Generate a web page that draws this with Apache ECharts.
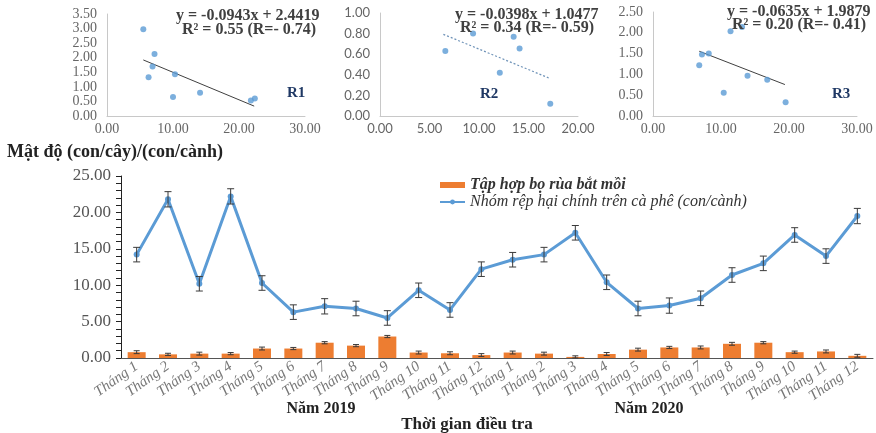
<!DOCTYPE html>
<html>
<head>
<meta charset="utf-8">
<script src="https://cdn.jsdelivr.net/npm/echarts@6/dist/echarts.min.js"></script>
<style>
html,body{margin:0;padding:0;background:#fff}
#chart{width:876px;height:433px}
</style>
</head>
<body>
<div id="chart"></div>
<script>
// ---- Monthly survey data (2019-2020) ----
const monthLabels = ['Tháng 1','Tháng 2','Tháng 3','Tháng 4','Tháng 5','Tháng 6','Tháng 7','Tháng 8','Tháng 9','Tháng 10','Tháng 11','Tháng 12',
                     'Tháng 1','Tháng 2','Tháng 3','Tháng 4','Tháng 5','Tháng 6','Tháng 7','Tháng 8','Tháng 9','Tháng 10','Tháng 11','Tháng 12'];
const beetleName = 'Tập hợp bọ rùa bắt mồi';
const aphidName = 'Nhóm rệp hại chính trên cà phê (con/cành)';
const beetleValues = [0.8,0.5,0.6,0.6,1.3,1.3,2.1,1.7,2.95,0.75,0.65,0.4, 0.75,0.6,0.15,0.55,1.15,1.45,1.45,1.95,2.1,0.8,0.9,0.3];
const beetleErr    = [0.2,0.15,0.2,0.15,0.2,0.15,0.15,0.15,0.15,0.2,0.2,0.2, 0.2,0.2,0.15,0.2,0.2,0.15,0.2,0.2,0.15,0.15,0.2,0.2];
const aphidValues  = [14.2,21.8,10.2,22.2,10.3,6.3,7.1,6.8,5.5,9.3,6.6,12.2, 13.5,14.2,17.2,10.4,6.8,7.2,8.2,11.4,13.0,16.9,14.0,19.5];
const aphidErr     = [1.0,1.05,1.0,1.05,1.0,1.0,1.05,1.0,1.0,1.0,1.0,1.0, 1.0,1.0,1.0,1.0,1.0,1.05,1.0,1.0,1.0,1.0,1.0,1.05];
const densityTicks = [0,5,10,15,20,25];

// ---- Regressions: aphid density (x) vs. ladybird density (y) ----
const r1Points = [[5.5,2.98],[7.2,2.13],[6.9,1.70],[6.3,1.33],[10.3,1.43],[10.0,0.65],[14.1,0.80],[21.8,0.53],[22.4,0.60]];
const r1Fit = {slope:-0.0943, intercept:2.4419, from:5.5, to:22.3};
const r2Points = [[6.6,0.63],[9.4,0.80],[13.5,0.77],[14.1,0.656],[12.1,0.42],[17.2,0.12]];
const r2Fit = {slope:-0.0398, intercept:1.0477, from:6.4, to:17.1};
const r3Points = [[11.4,2.04],[13.1,2.14],[7.2,1.48],[8.2,1.50],[6.8,1.22],[13.9,0.97],[16.8,0.87],[10.4,0.56],[19.5,0.33]];
const r3Fit = {slope:-0.0635, intercept:1.9879, from:6.8, to:19.4};

const SERIF = '"Liberation Serif","Times New Roman",serif';
const SANS = 'Lato,"Liberation Sans",sans-serif';
const BLUE = '#5B9BD5';
const ORANGE = '#ED7D31';

function fitLine(f){
  return [[f.from, f.intercept + f.slope*f.from],[f.to, f.intercept + f.slope*f.to]];
}

function smallAxes(idx, max, step, font, size, xmax, xstep){
  return {
    x:{gridIndex:idx,type:'value',min:0,max:xmax,interval:xstep,
       axisLine:{show:true,lineStyle:{color:'#c8c8c8'}},axisTick:{show:false},splitLine:{show:false},
       axisLabel:{color:'#666',fontFamily:font,fontSize:size,margin:6,formatter:v=>v.toFixed(2)}},
    y:{gridIndex:idx,type:'value',min:0,max:max,interval:step,
       axisLine:{show:true,lineStyle:{color:'#c8c8c8'}},axisTick:{show:false},splitLine:{show:false},
       axisLabel:{color:'#666',fontFamily:font,fontSize:size,margin:10,formatter:v=>v.toFixed(2)}}
  };
}
const a1 = smallAxes(0,3.5,0.5,SERIF,14,30,10);
const a2 = smallAxes(1,1.0,0.2,SANS,13,20,5);
const a3 = smallAxes(2,2.5,0.5,SERIF,14,30,10);

function errorBars(values, errs, capHalf, z){
  return {
    type:'custom', xAxisIndex:3, yAxisIndex:3, z:z, silent:true,
    data: values.map((v,i)=>[i, v, errs[i]]),
    renderItem:(params, api)=>{
      const i = api.value(0), v = api.value(1), e = api.value(2);
      const top = api.coord([i, v+e]);
      const bot = api.coord([i, Math.max(0, v-e)]);
      const st = {stroke:'#3a3a3a', lineWidth:1};
      return {type:'group', children:[
        {type:'line', shape:{x1:top[0],y1:top[1],x2:bot[0],y2:bot[1]}, style:st},
        {type:'line', shape:{x1:top[0]-capHalf,y1:top[1],x2:top[0]+capHalf,y2:top[1]}, style:st},
        {type:'line', shape:{x1:bot[0]-capHalf,y1:bot[1],x2:bot[0]+capHalf,y2:bot[1]}, style:st}
      ]};
    }
  };
}

function txt(x, y, text, font, fill, align){
  return {type:'text', x:x, y:y, z:50, style:{text:text, font:font, fill:fill||'#404040', align:align||'left', verticalAlign:'middle'}};
}

const chart = echarts.init(document.getElementById('chart'), null, {renderer:'canvas'});
chart.setOption({
  backgroundColor:'#fff',
  animation:false,
  grid:[
    {left:107, top:14, width:198, height:102},
    {left:380, top:13, width:198, height:103},
    {left:653, top:12, width:204, height:104},
    {left:121, top:176, width:752, height:182}
  ],
  xAxis:[a1.x, a2.x, a3.x, {
    gridIndex:3, type:'category', data:monthLabels, boundaryGap:true,
    axisLine:{show:true,lineStyle:{color:'#555'}}, axisTick:{show:false},
    axisLabel:{interval:0, rotate:35, color:'#777', fontFamily:SERIF, fontStyle:'italic', fontSize:15, margin:7}
  }],
  yAxis:[a1.y, a2.y, a3.y, {
    gridIndex:3, type:'value', min:densityTicks[0], max:densityTicks[densityTicks.length-1], interval:5,
    axisLine:{show:true,lineStyle:{color:'#222'}},
    axisTick:{show:true,length:5,lineStyle:{color:'#222'}},
    minorTick:{show:true,splitNumber:5,length:5,lineStyle:{color:'#222'}},
    splitLine:{show:false},
    axisLabel:{color:'#555', fontFamily:SERIF, fontSize:17, margin:10, formatter:v=>v.toFixed(2)}
  }],
  legend:{
    orient:'vertical', left:434, top:172, itemWidth:25, itemHeight:6, itemGap:1,
    textStyle:{fontFamily:SERIF, fontStyle:'italic', fontSize:16, color:'#333'},
    data:[
      {name:beetleName, icon:'rect', textStyle:{fontWeight:'bold'}},
      {name:aphidName}
    ]
  },
  series:[
    {name:beetleName, type:'bar', xAxisIndex:3, yAxisIndex:3, data:beetleValues, barWidth:18,
     itemStyle:{color:ORANGE}, z:2},
    {name:aphidName, type:'line', xAxisIndex:3, yAxisIndex:3, data:aphidValues,
     lineStyle:{color:BLUE, width:3}, itemStyle:{color:BLUE}, symbol:'circle', symbolSize:6, z:3},
    errorBars(beetleValues, beetleErr, 3, 4),
    errorBars(aphidValues, aphidErr, 3.5, 5),

    {type:'scatter', xAxisIndex:0, yAxisIndex:0, data:r1Points, symbolSize:6, itemStyle:{color:BLUE}, z:3},
    {type:'line', xAxisIndex:0, yAxisIndex:0, data:fitLine(r1Fit), symbol:'none',
     lineStyle:{color:'#404040', width:1}, z:2},
    {type:'scatter', xAxisIndex:1, yAxisIndex:1, data:r2Points, symbolSize:6, itemStyle:{color:BLUE}, z:3},
    {type:'line', xAxisIndex:1, yAxisIndex:1, data:fitLine(r2Fit), symbol:'none',
     lineStyle:{color:'#6f93b8', width:1.2, type:[2,2]}, z:2},
    {type:'scatter', xAxisIndex:2, yAxisIndex:2, data:r3Points, symbolSize:6, itemStyle:{color:BLUE}, z:3},
    {type:'line', xAxisIndex:2, yAxisIndex:2, data:fitLine(r3Fit), symbol:'none',
     lineStyle:{color:'#404040', width:1}, z:2}
  ],
  graphic:[
    txt(176, 16, 'y = -0.0943x + 2.4419', 'bold 16px '+SERIF),
    txt(182, 30, 'R² = 0.55 (R=- 0.74)', 'bold 16px '+SERIF),
    txt(287, 93, 'R1', 'bold 15px '+SERIF, '#1F3864'),
    txt(455, 15, 'y = -0.0398x + 1.0477', 'bold 16px '+SERIF),
    txt(460, 28, 'R² = 0.34 (R=- 0.59)', 'bold 16px '+SERIF),
    txt(480, 94, 'R2', 'bold 15px '+SERIF, '#1F3864'),
    txt(727, 12, 'y = -0.0635x + 1.9879', 'bold 16px '+SERIF),
    txt(732, 25, 'R² = 0.20 (R=- 0.41)', 'bold 16px '+SERIF),
    txt(832, 94, 'R3', 'bold 15px '+SERIF, '#1F3864'),
    txt(7, 152, 'Mật độ (con/cây)/(con/cành)', 'bold 18px '+SERIF, '#222'),
    txt(321, 409, 'Năm 2019', 'bold 16px '+SERIF, '#222', 'center'),
    txt(649, 409, 'Năm 2020', 'bold 16px '+SERIF, '#222', 'center'),
    txt(467, 425, 'Thời gian điều tra', 'bold 17px '+SERIF, '#222', 'center')
  ]
});
</script>
</body>
</html>
